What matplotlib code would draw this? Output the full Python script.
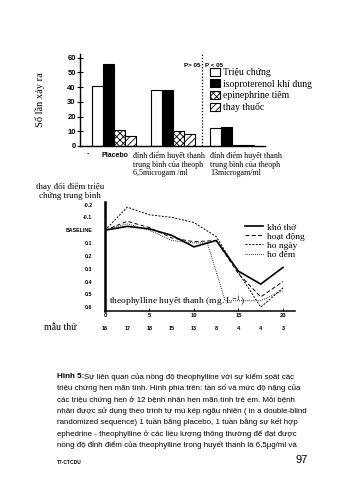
import matplotlib
matplotlib.use('Agg')
import matplotlib.pyplot as plt
from matplotlib.patches import Patch
import matplotlib.transforms as mtransforms

plt.rcParams['hatch.linewidth'] = 0.6
plt.rcParams['mathtext.fontset'] = 'stix'

W, H = 360, 480
SERIF = 'Liberation Serif'
SANS = 'Liberation Sans'


def rect(x0, y0, x1, y1):
    return [x0 / W, 1 - y1 / H, (x1 - x0) / W, (y1 - y0) / H]


def fx(x):
    return x / W


def fy(y):
    return 1 - y / H


# ---------------- data ----------------
group_labels = ['Placebo',
                'đỉnh điểm huyết thanh\ntrung bình của theoph\n6,5microgam /ml',
                'đỉnh điểm huyết thanh\ntrung bình của theoph\n13microgam/ml']
series_names = ['Triệu chứng', 'isoproterenol khí dung', 'epinephrine tiêm', 'thay thuốc']
trieu_chung = [41, 38, 12]
isoproterenol = [56, 38, 13]
epinephrine = [11, 10, 0.5]
thay_thuoc = [7, 8, 0.5]
bar_yticks = [0, 10, 20, 30, 40, 50, 60]

conc = [0, 2.5, 5, 7.5, 10, 12.5, 15, 17.5, 20]
kho_tho = [0, -0.03, -0.01, 0.04, 0.13, 0.08, 0.32, 0.42, 0.29]
hoat_dong = [0, -0.07, -0.02, 0.06, 0.09, 0.08, 0.34, 0.52, 0.40]
ho_ngay = [0, -0.18, -0.12, -0.10, -0.06, 0.05, 0.33, 0.60, 0.45]
conc_ho_dem = [0, 2.5, 5, 7.5, 10, 11.5, 13.5, 17.5, 20]
ho_dem = [0, -0.05, 0.0, 0.08, 0.10, 0.10, 0.55, 0.55, 0.47]
line_names = ['khó thở', 'hoạt động', 'ho ngày', 'ho đêm']
line_yticks = [-0.2, -0.1, 0, 0.1, 0.2, 0.3, 0.4, 0.5, 0.6]
line_yticklabels = ['-0.2', '-0.1', 'BASELINE', '0.1', '0.2', '0.3', '0.4', '0.5', '0.6']
line_xticks = [0, 5, 10, 15, 20]
sample_counts = [16, 17, 18, 15, 13, 8, 4, 4, 3]

caption_lines = [
    'Sự liên quan của nồng độ theophylline với sự kiểm soát các',
    'triệu chứng hen mãn tính. Hình phía trên: tần số và mức độ nặng của',
    'các triệu chứng hen ở 12 bệnh nhân hen mãn tính trẻ em. Mỗi bệnh',
    'nhân được sử dụng theo trình tự mù kép ngẫu nhiên ( in a double-blind',
    'randomized sequence) 1 tuần bằng placebo, 1 tuần bằng sự kết hợp',
    'ephedrine - theophylline ở các liều lượng thông thường để đạt được',
    'nồng độ đỉnh điểm của theophylline trong huyết thanh là 6,5µg/ml và',
]

fig = plt.figure(figsize=(3.6, 4.8), dpi=100)
fig.patch.set_facecolor('white')

# ---------------- bar chart ----------------
ax = fig.add_axes(rect(80, 54, 265, 146))
bw = 0.186
facecolors = ['white', 'black', 'white', 'white']
hatches = [None, None, 'xxxxx', '/////']
all_series = [trieu_chung, isoproterenol, epinephrine, thay_thuoc]
idx = list(range(len(group_labels)))
for j, vals in enumerate(all_series):
    xs = [i + (j - 1.5) * bw for i in idx]
    ax.bar(xs, vals, width=bw, color=facecolors[j], edgecolor='black',
           hatch=hatches[j], linewidth=0.8, label=series_names[j])
ax.set_xlim(-0.576, 2.56)
ax.set_ylim(0, 62.5)
ax.set_yticks(bar_yticks)
ax.set_yticklabels([str(v) for v in bar_yticks], fontsize=5.5, fontweight='bold', family=SANS)
ax.tick_params(axis='y', direction='inout', length=4, width=0.8, pad=1)
ax.set_xticks([])
for s in ['top', 'right']:
    ax.spines[s].set_visible(False)
ax.spines['left'].set_linewidth(1.0)
ax.spines['bottom'].set_linewidth(1.0)
ax.axvline(1.5, color='black', linestyle=(0, (1, 1.5)), linewidth=0.9)
ax.text(1.46, 54.5, 'P> 05', fontsize=4.5, fontweight='bold', family=SANS, ha='right', va='center')
ax.text(1.55, 54.5, 'P < 05', fontsize=4.5, fontweight='bold', family=SANS, ha='left', va='center')

handles = [Patch(facecolor=facecolors[j], edgecolor='black', hatch=hatches[j], linewidth=0.8)
           for j in range(4)]
fig.legend(handles, series_names, loc='upper left', bbox_to_anchor=(fx(210), fy(68)),
           frameon=False, prop={'family': SERIF, 'size': 7}, handlelength=1.0, handleheight=0.9,
           handletextpad=0.3, labelspacing=0.2, borderpad=0, borderaxespad=0)

fig.text(fx(40), fy(100), 'Số lần xảy ra', rotation=90, family=SERIF, fontsize=7.5,
         ha='center', va='center')
fig.text(fx(88), fy(154), '-', family=SANS, fontsize=5, fontweight='bold', ha='center', va='center')
fig.text(fx(115), fy(155), group_labels[0], family=SANS, fontsize=5, fontweight='bold',
         ha='center', va='center')
fig.text(fx(133), fy(151), group_labels[1], family=SERIF, fontsize=5.8, ha='left', va='top',
         linespacing=1.15)
fig.text(fx(210), fy(151), group_labels[2], family=SERIF, fontsize=5.8, ha='left', va='top',
         linespacing=1.15)

# ---------------- line chart ----------------
lx = fig.add_axes(rect(105, 202, 295, 311))
lx.plot(conc, kho_tho, color='black', linewidth=1.2, label=line_names[0])
lx.plot(conc, hoat_dong, color='black', linewidth=0.7, dashes=(4, 2.5), label=line_names[1])
lx.plot(conc, ho_ngay, color='black', linewidth=0.7, dashes=(2, 1.5), label=line_names[2])
lx.plot(conc_ho_dem, ho_dem, color='black', linewidth=0.7, dashes=(0.8, 1.2), label=line_names[3])
lx.set_xlim(0, 21.35)
lx.set_ylim(0.63, -0.22)
lx.set_yticks(line_yticks)
lx.set_yticklabels(line_yticklabels, fontsize=3.8, fontweight='bold', family=SANS)
lx.tick_params(axis='y', length=0, pad=9)
lx.set_xticks(line_xticks)
lx.set_xticklabels([str(v) for v in line_xticks], fontsize=4.2, fontweight='bold', family=SANS)
lx.tick_params(axis='x', direction='in', length=2, width=0.6, pad=1.5)
for s in ['top', 'right']:
    lx.spines[s].set_visible(False)
lx.spines['left'].set_linewidth(1.8)
lx.spines['bottom'].set_linewidth(1.1)
lx.text(0.02, 0.08, 'theophylline huyết thanh (mg. L$^{-1}$)', transform=lx.transAxes,
        family=SERIF, fontsize=6.8, ha='left', va='center')
lx.legend(loc='upper left', bbox_to_anchor=(fx(245), fy(223)), bbox_transform=fig.transFigure,
          frameon=False, prop={'family': SERIF, 'size': 6.8}, handlelength=1.9,
          handletextpad=0.4, labelspacing=0.05, borderpad=0, borderaxespad=0)

fig.text(fx(70), fy(191), 'thay đổi điểm triệu\nchứng trung bình', family=SERIF, fontsize=6.4,
         ha='center', va='center', linespacing=1.15)

fig.text(fx(60), fy(328), 'mẫu thử', family=SERIF, fontsize=7, ha='center', va='center')
trans = mtransforms.blended_transform_factory(lx.transData, fig.transFigure)
for c, n in zip(conc, sample_counts):
    lx.text(c, fy(328), str(n), transform=trans, fontsize=4, fontweight='bold', family=SANS,
            ha='center', va='center', clip_on=False)

# ---------------- caption ----------------
y0 = 377
step = 11.3
fig.text(fx(57), fy(y0), 'Hình 5:', family=SANS, fontsize=5.8, fontweight='bold',
         ha='left', va='center')
for k, line in enumerate(caption_lines):
    x = 84 if k == 0 else 57
    fig.text(fx(x), fy(y0 + k * step), line, family=SANS, fontsize=5.7, ha='left', va='center',
             color='black')

fig.text(fx(308), fy(460), '97', family=SANS, fontsize=8, ha='right', va='center')
fig.text(fx(57), fy(463), 'T7-CTCDU', family=SANS, fontsize=3.5, fontweight='bold',
         ha='left', va='center')

fig.savefig('out.png', dpi=100)
